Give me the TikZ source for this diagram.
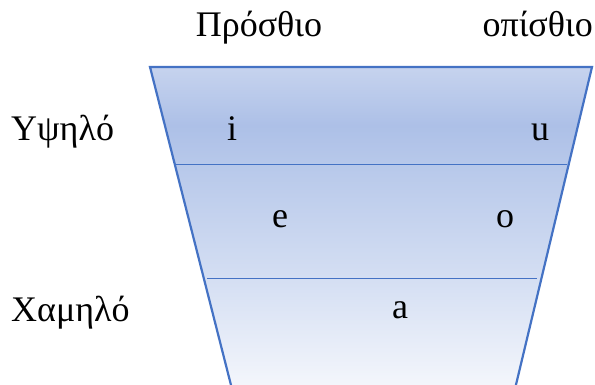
\documentclass[tikz,border=0pt]{standalone}
\usepackage{fontspec}
\setmainfont{Liberation Serif}
\usetikzlibrary{positioning, calc}

\definecolor{edgeblue}{HTML}{4472C4}
\definecolor{fillbottom}{HTML}{F5F7FC}
\definecolor{fillmid}{HTML}{D5DFF3}
\definecolor{fillhigh}{HTML}{B7C8EA}
\definecolor{filldark}{HTML}{ADC0E7}
\definecolor{filltop}{HTML}{C6D3EE}
\pgfdeclareverticalshading{vowelfill}{100bp}{
  color(0bp)=(fillbottom);
  color(25bp)=(fillbottom);
  color(42bp)=(fillmid);
  color(60bp)=(fillhigh);
  color(66bp)=(filldark);
  color(75bp)=(filltop);
  color(100bp)=(filltop)}

\begin{document}
\begin{tikzpicture}[
    x=1pt, y=-1pt,
    font=\fontsize{36}{40}\selectfont,
    label/.style={anchor=base, inner sep=0pt},
    vowel/.style={anchor=base, inner sep=0pt},
    divider/.style={draw=edgeblue, line width=1pt}
  ]
  \useasboundingbox (0,0) rectangle (595,385);
  \clip (0,0) rectangle (595,385);

  % trapezoid corners (bottom runs past the page edge)
  \coordinate (tl) at (150,67);
  \coordinate (tr) at (592,67);
  \coordinate (br) at (514.5,391);
  \coordinate (bl) at (232.5,391);

  \shade[shading=vowelfill] (tl) -- (tr) -- (br) -- (bl) -- cycle;

  % dividers between the rows
  \coordinate (d1l) at (175,165);
  \coordinate (d1r) at (567,165);
  \coordinate (d2l) at (207,278);
  \coordinate (d2r) at (537,278);
  \draw[divider] (d1l) -- (d1r);
  \draw[divider] (d2l) -- (d2r);

  \draw[edgeblue, line width=2.2pt, line join=miter] (tl) -- (tr) -- (br) -- (bl) -- cycle;

  % column and row labels
  \node (front) [label] at (259,37) {Πρόσθιο};
  \node (back) [label, anchor=base east] at (593,37) {οπίσθιο};
  \node (high) [label, anchor=base west] at (11,141) {Υψηλό};
  \node (low) [label, anchor=base west] at (11,321) {Χαμηλό};

  % vowels
  \node (vi) [vowel] at (232,141) {i};
  \node (vu) [vowel] at (540,141) {u};
  \node (ve) [vowel] at (280,228) {e};
  \node (vo) [vowel] at (505,228) {o};
  \node (va) [vowel] at (400,318) {a};
\end{tikzpicture}
\end{document}
